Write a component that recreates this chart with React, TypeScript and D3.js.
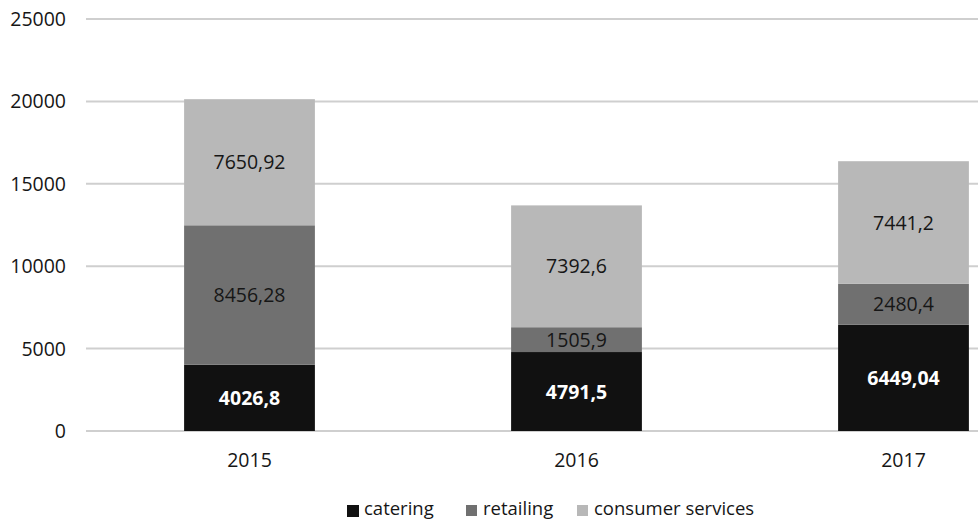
import React from "react";
import { scaleBand, scaleLinear, stack } from "d3";

const years = ["2015", "2016", "2017"];
const catering = [4026.8, 4791.5, 6449.04];
const retailing = [8456.28, 1505.9, 2480.4];
const consumerServices = [7650.92, 7392.6, 7441.2];
const yTicks = [0, 5000, 10000, 15000, 20000, 25000];

const seriesKeys = ["catering", "retailing", "consumer services"];
const seriesValues = [catering, retailing, consumerServices];
const seriesColors = ["#111111", "#707070", "#b8b8b8"];
const labelColors = ["#ffffff", "#161616", "#161616"];

const fmt = (v: number) => String(v).replace(".", ",");

export default function App() {
  const width = 978;
  const height = 521;
  const margin = { left: 86, top: 19, bottom: 431 };

  const rows = years.map((year, i) => ({
    year,
    catering: catering[i],
    retailing: retailing[i],
    "consumer services": consumerServices[i],
  }));
  const layers = stack<any>().keys(seriesKeys)(rows);

  // plot area runs past the right edge (chart is cropped)
  const x = scaleBand()
    .domain(years)
    .range([margin.left, 1067])
    .paddingInner(0.6)
    .paddingOuter(0.3);
  const y = scaleLinear().domain([0, 25000]).range([margin.bottom, margin.top]);

  const font = "'Open Sans', sans-serif";

  const legendItems = [
    { x: 347, size: 12 },
    { x: 466, size: 11 },
    { x: 577, size: 11 },
  ];

  return (
    <svg
      width={width}
      height={height}
      style={{ position: "absolute", left: 0, top: 0, background: "#fff" }}
      fontFamily={font}
    >
      {yTicks.map((t) => (
        <g key={t}>
          <line
            x1={margin.left}
            x2={width}
            y1={y(t)}
            y2={y(t)}
            stroke="#cfcfcf"
            strokeWidth={2}
          />
          <text x={66} y={y(t) + 7} textAnchor="end" fontSize={19.5} fill="#161616">
            {t}
          </text>
        </g>
      ))}

      {layers.map((layer, li) => (
        <g key={layer.key}>
          {layer.map((d, i) => {
            const x0 = x(years[i])!;
            const top = y(d[1]);
            const bottom = y(d[0]);
            return (
              <g key={years[i]}>
                <rect
                  x={x0}
                  y={top}
                  width={x.bandwidth()}
                  height={bottom - top}
                  fill={seriesColors[li]}
                />
                <text
                  x={x0 + x.bandwidth() / 2}
                  y={(top + bottom) / 2 + 7}
                  textAnchor="middle"
                  fontSize={19.5}
                  fontWeight={li === 0 ? 700 : 400}
                  fill={labelColors[li]}
                >
                  {fmt(seriesValues[li][i])}
                </text>
              </g>
            );
          })}
        </g>
      ))}

      {years.map((yr) => (
        <text
          key={yr}
          x={x(yr)! + x.bandwidth() / 2}
          y={467}
          textAnchor="middle"
          fontSize={19.5}
          fill="#161616"
        >
          {yr}
        </text>
      ))}

      {seriesKeys.map((k, i) => (
        <g key={k}>
          <rect
            x={legendItems[i].x}
            y={505}
            width={legendItems[i].size}
            height={legendItems[i].size}
            fill={seriesColors[i]}
          />
          <text x={legendItems[i].x + 17} y={515} fontSize={18.5} fill="#161616">
            {k}
          </text>
        </g>
      ))}
    </svg>
  );
}
